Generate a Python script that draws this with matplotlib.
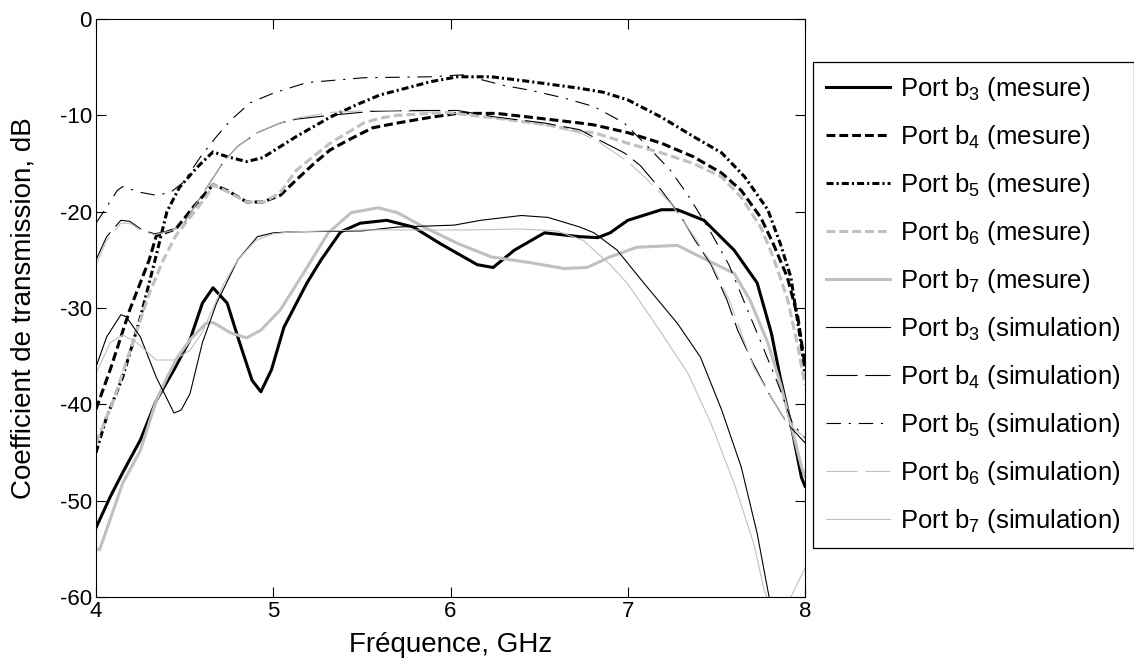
import matplotlib
matplotlib.use("Agg")
import matplotlib.pyplot as plt

plt.rcParams["font.family"] = ["Liberation Sans", "DejaVu Sans"]
plt.rcParams["mathtext.fontset"] = "custom"
plt.rcParams["mathtext.rm"] = "Liberation Sans"
plt.rcParams["mathtext.default"] = "regular"
plt.rcParams["axes.unicode_minus"] = False

# frequency (GHz) / transmission (dB)
b3_mes_f = [4.0, 4.08, 4.15, 4.25, 4.34, 4.44, 4.53, 4.6, 4.66, 4.74, 4.81, 4.88, 4.93, 4.99, 5.06,
            5.19, 5.27, 5.38, 5.49, 5.64, 5.79, 5.94, 6.15, 6.24, 6.36, 6.53, 6.73, 6.83, 6.9, 7.0,
            7.19, 7.28, 7.43, 7.6, 7.73, 7.81, 7.86, 7.92, 7.98, 8.0]
b3_mes_db = [-52.8, -49.6, -47.1, -43.7, -39.6, -36.4, -33.3, -29.5, -27.9, -29.5, -33.6, -37.5, -38.7,
             -36.4, -32.0, -27.4, -25.0, -22.1, -21.2, -20.9, -21.6, -23.3, -25.5, -25.8, -24.0, -22.2,
             -22.6, -22.7, -22.2, -20.9, -19.8, -19.8, -20.9, -24.0, -27.4, -32.6, -37.2, -42.0, -47.6, -48.5]

b4_mes_f = [4.0, 4.08, 4.19, 4.3, 4.34, 4.45, 4.55, 4.66, 4.74, 4.85, 4.94, 5.04, 5.13, 5.23, 5.32,
            5.42, 5.56, 5.7, 5.89, 6.04, 6.26, 6.45, 6.73, 6.81, 7.0, 7.19, 7.37, 7.53, 7.64, 7.75,
            7.82, 7.9, 7.96, 8.0]
b4_mes_db = [-40.5, -36.4, -30.2, -25.0, -22.5, -21.8, -19.5, -17.2, -17.8, -19.0, -19.0, -18.3, -16.7,
             -15.0, -13.6, -12.6, -11.3, -10.8, -10.2, -9.8, -9.8, -10.2, -10.8, -11.0, -11.8, -12.9,
             -14.3, -16.0, -17.8, -20.6, -23.3, -26.8, -31.0, -36.0]

b5_mes_f = [4.0, 4.06, 4.15, 4.25, 4.34, 4.4, 4.47, 4.57, 4.66, 4.74, 4.85, 4.94, 5.13, 5.32, 5.47,
            5.6, 5.89, 6.04, 6.23, 6.45, 6.73, 6.86, 7.0, 7.19, 7.37, 7.53, 7.66, 7.79, 7.86, 7.92,
            7.98, 8.0]
b5_mes_db = [-45.0, -41.3, -37.2, -31.0, -24.5, -20.0, -17.5, -15.4, -13.8, -14.3, -14.8, -14.4, -12.2,
             -10.2, -8.9, -7.9, -6.5, -6.0, -6.0, -6.5, -7.2, -7.6, -8.4, -10.2, -12.2, -13.9, -16.4,
             -19.8, -23.3, -26.8, -34.0, -37.0]

b6_mes_f = [4.0, 4.1, 4.2, 4.3, 4.38, 4.45, 4.53, 4.62, 4.66, 4.75, 4.85, 4.95, 5.04, 5.13, 5.32,
            5.51, 5.6, 5.7, 5.98, 6.26, 6.55, 6.73, 6.81, 7.0, 7.19, 7.37, 7.53, 7.64, 7.75, 7.82,
            7.9, 7.96, 8.0]
b6_mes_db = [-44.0, -39.5, -34.0, -28.5, -25.0, -22.5, -20.6, -18.5, -17.2, -18.0, -19.0, -19.0, -18.0,
             -15.7, -12.9, -10.8, -10.3, -10.0, -9.7, -10.3, -11.0, -11.7, -11.8, -12.9, -13.9, -15.0,
             -16.4, -18.5, -21.6, -24.7, -29.0, -34.0, -38.0]

b7_mes_f = [4.0, 4.02, 4.15, 4.25, 4.34, 4.4, 4.46, 4.53, 4.62, 4.66, 4.76, 4.85, 4.93, 5.04, 5.19,
            5.31, 5.44, 5.59, 5.7, 5.85, 6.04, 6.23, 6.45, 6.64, 6.77, 6.9, 7.05, 7.28, 7.41, 7.6,
            7.69, 7.79, 7.86, 7.92, 7.98, 8.0]
b7_mes_db = [-55.0, -55.1, -48.2, -44.8, -39.6, -37.2, -35.1, -33.3, -31.6, -31.5, -32.6, -33.1, -32.3,
             -30.2, -25.8, -22.2, -20.1, -19.6, -20.1, -21.6, -23.3, -24.7, -25.3, -25.9, -25.8, -24.7,
             -23.7, -23.5, -24.7, -26.4, -29.2, -33.6, -37.8, -42.0, -46.5, -47.5]

b3_sim_f = [4.0, 4.06, 4.14, 4.17, 4.25, 4.34, 4.44, 4.48, 4.53, 4.6, 4.68, 4.8, 4.91, 5.0, 5.1,
            5.5, 5.7, 6.02, 6.17, 6.4, 6.55, 6.73, 6.81, 6.94, 7.09, 7.28, 7.41, 7.53, 7.64, 7.73,
            7.79, 7.85]
b3_sim_db = [-36.1, -33.0, -30.7, -30.9, -33.0, -37.2, -40.9, -40.6, -38.9, -33.6, -29.5, -25.0, -22.6,
             -22.2, -22.1, -22.0, -21.6, -21.4, -20.9, -20.4, -20.6, -21.6, -22.2, -24.0, -27.4, -31.6,
             -35.1, -40.6, -46.5, -53.4, -59.3, -65.0]

b4_sim_f = [4.0, 4.06, 4.14, 4.19, 4.26, 4.33, 4.42, 4.49, 4.53, 4.59, 4.66, 4.72, 4.8, 4.91, 5.04,
            5.13, 5.32, 5.55, 5.8, 6.04, 6.26, 6.53, 6.73, 6.81, 6.98, 7.07, 7.19, 7.3, 7.38, 7.47,
            7.56, 7.62, 7.7, 7.8, 7.9, 8.0]
b4_sim_db = [-25.0, -22.6, -20.9, -21.0, -21.9, -22.3, -22.0, -21.4, -20.2, -18.5, -16.5, -14.8, -13.2,
             -11.8, -10.8, -10.4, -10.0, -9.6, -9.5, -9.5, -10.2, -10.8, -11.5, -12.3, -13.9, -15.2,
             -17.8, -20.5, -23.0, -25.5, -29.2, -32.3, -35.5, -39.0, -42.0, -44.0]

b5_sim_f = [4.0, 4.06, 4.12, 4.15, 4.25, 4.34, 4.42, 4.49, 4.59, 4.68, 4.76, 4.87, 5.0, 5.19, 5.32,
            5.51, 5.89, 6.07, 6.3, 6.45, 6.64, 6.81, 6.98, 7.1, 7.24, 7.34, 7.47, 7.57, 7.66, 7.75,
            7.85, 7.93, 8.0]
b5_sim_db = [-21.2, -19.5, -17.8, -17.4, -18.0, -18.3, -18.0, -17.0, -14.3, -12.2, -10.5, -8.7, -7.7,
             -6.6, -6.4, -6.1, -6.0, -5.8, -6.9, -7.4, -8.2, -9.1, -10.8, -13.0, -15.7, -18.3, -22.2,
             -25.5, -29.5, -33.5, -38.0, -42.0, -43.5]

b6_sim_f = [4.0, 4.06, 4.14, 4.19, 4.26, 4.33, 4.42, 4.49, 4.53, 4.59, 4.66, 4.72, 4.8, 4.91, 5.04,
            5.13, 5.32, 5.55, 5.8, 6.04, 6.26, 6.53, 6.73, 6.84, 7.0, 7.1, 7.24, 7.36, 7.47, 7.58,
            7.66, 7.71, 7.8, 7.9, 8.0]
b6_sim_db = [-25.5, -23.0, -21.2, -21.2, -22.0, -22.4, -22.0, -21.4, -20.2, -18.5, -16.5, -14.8, -13.2,
             -11.8, -10.8, -10.3, -9.7, -9.5, -9.6, -9.8, -10.3, -11.0, -11.8, -12.8, -14.8, -16.5,
             -19.1, -22.2, -25.3, -29.5, -33.6, -36.1, -39.0, -42.0, -43.4]

b7_sim_f = [4.0, 4.08, 4.15, 4.23, 4.34, 4.44, 4.53, 4.6, 4.66, 4.72, 4.8, 4.9, 5.0, 5.1, 5.3,
            5.5, 5.8, 6.1, 6.4, 6.6, 6.75, 6.9, 7.0, 7.19, 7.34, 7.47, 7.6, 7.71, 7.77, 7.85,
            7.92, 8.0]
b7_sim_db = [-36.8, -33.6, -32.8, -33.6, -35.4, -35.4, -34.4, -32.5, -30.0, -27.5, -25.0, -23.0, -22.3,
             -22.1, -22.0, -21.9, -21.9, -21.9, -21.8, -22.0, -23.0, -25.5, -27.5, -32.6, -36.8, -42.0,
             -48.2, -54.4, -59.3, -63.0, -60.0, -57.0]

GRAY = "#c0c0c0"
THICK = 2.2
THIN = 0.8

fig = plt.figure(figsize=(11.34, 6.68), dpi=100)
ax = fig.add_axes([0.0847, 0.1063, 0.6252, 0.8653])

ax.plot(b3_mes_f, b3_mes_db, color="black", lw=THICK, ls="-", label=r"Port b$_3$ (mesure)")
ax.plot(b4_mes_f, b4_mes_db, color="black", lw=THICK, ls=(0, (2.9, 1.3)), label=r"Port b$_4$ (mesure)")
ax.plot(b5_mes_f, b5_mes_db, color="black", lw=THICK, ls=(0, (2.3, 1.0, 0.7, 1.0)), label=r"Port b$_5$ (mesure)")
ax.plot(b6_mes_f, b6_mes_db, color=GRAY, lw=THICK, ls=(0, (2.9, 1.3)), label=r"Port b$_6$ (mesure)")
ax.plot(b7_mes_f, b7_mes_db, color=GRAY, lw=THICK, ls="-", label=r"Port b$_7$ (mesure)")
ax.plot(b3_sim_f, b3_sim_db, color="black", lw=THIN, ls="-", label=r"Port b$_3$ (simulation)")
ax.plot(b4_sim_f, b4_sim_db, color="black", lw=THIN, ls=(0, (28, 7)), label=r"Port b$_4$ (simulation)")
ax.plot(b5_sim_f, b5_sim_db, color="black", lw=THIN, ls=(0, (13, 7, 2, 7)), label=r"Port b$_5$ (simulation)")
ax.plot(b6_sim_f, b6_sim_db, color=GRAY, lw=THIN, ls=(0, (28, 7)), label=r"Port b$_6$ (simulation)")
ax.plot(b7_sim_f, b7_sim_db, color=GRAY, lw=THIN, ls="-", label=r"Port b$_7$ (simulation)")

ax.set_xlim(4, 8)
ax.set_ylim(-60, 0)
ax.set_xticks([4, 5, 6, 7, 8])
ax.set_yticks(range(-60, 1, 10))
ax.tick_params(direction="in", top=True, right=True, labelsize=16, length=7, width=0.8, pad=3)
for s in ax.spines.values():
    s.set_linewidth(0.8)
ax.set_xlabel("Fréquence, GHz", fontsize=20, labelpad=7)
ax.set_ylabel("Coefficient de transmission, dB", fontsize=20, labelpad=17)

leg = fig.legend(loc="upper left", bbox_to_anchor=(0.717, 0.907), fontsize=18.5,
                 handlelength=2.5, handletextpad=0.4, labelspacing=0.78,
                 borderpad=0.5, borderaxespad=0, fancybox=False, framealpha=1, edgecolor="black")
leg.get_frame().set_linewidth(0.9)

fig.savefig("out.png", dpi=100)
